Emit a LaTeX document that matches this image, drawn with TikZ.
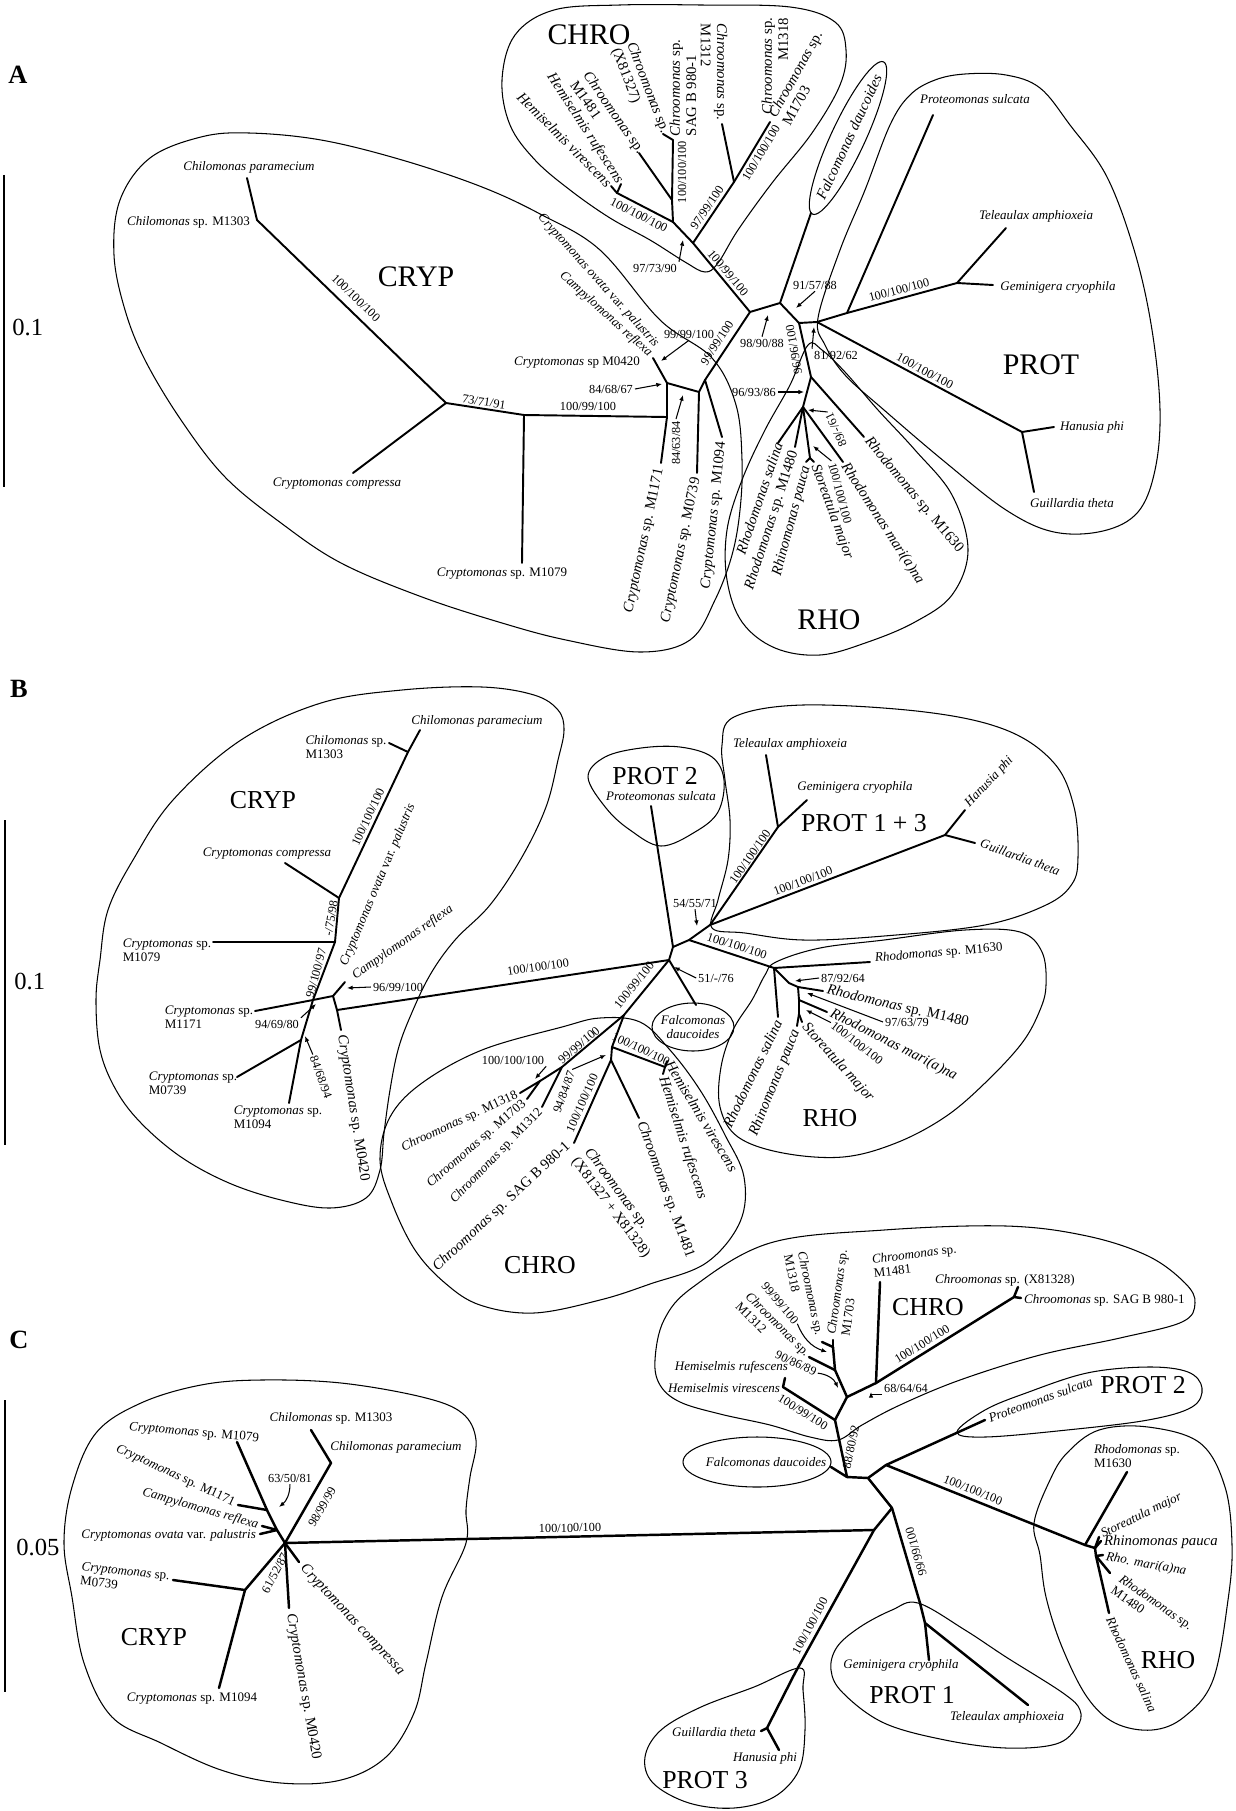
\documentclass[tikz,border=0pt]{standalone}
\usepackage{fontspec}
\setmainfont{Liberation Serif}
\usetikzlibrary{arrows.meta}

\begin{document}
\begin{tikzpicture}[x=0.02cm,y=-0.02cm]

  \tikzset{
    branch/.style={line width=1.1pt, line cap=round, line join=round},
    branchC/.style={line width=1.4pt, line cap=round, line join=round},
    bubble/.style={line width=0.6pt},
    taxon/.style={font=\fontsize{7.4}{8.2}\selectfont, inner sep=1pt},
    taxonL/.style={font=\fontsize{8.4}{9.2}\selectfont, inner sep=1pt},
    boot/.style={font=\fontsize{7}{8}\selectfont, inner sep=1pt},
    clade/.style={font=\fontsize{17}{17}\selectfont, inner sep=0pt},
    cladeS/.style={font=\fontsize{14.7}{15}\selectfont, inner sep=0pt},
    panel/.style={font=\fontsize{15}{15}\selectfont\bfseries, inner sep=0pt},
    scaletxt/.style={font=\fontsize{14}{14}\selectfont, inner sep=0pt},
    scalebar/.style={line width=0.9pt},
    pointer/.style={-{Latex[length=3.2pt,width=2.6pt]}, line width=0.6pt}
  }
  \newcommand{\genus}[1]{\textit{#1}}

  \useasboundingbox (0,0) rectangle (1236,1811);

  % ---------- A ----------
  \node[panel] (panA) at (18,75) {A};
  \coordinate (barAtop) at (4,175);
  \coordinate (barAbot) at (4,487);
  \draw[scalebar] (barAtop) -- (barAbot);
  \node[scaletxt, anchor=west] (scaleA) at (12,327) {0.1};

  \draw[bubble] plot[smooth cycle, tension=0.6] coordinates {
    (114,255) (120,200) (150,158) (201,137) (249,133) (321,140) (402,160)
    (482,187) (542,215) (600,250) (660,320) (712,358) (736,405) (742,460)
    (740,510) (732,555) (715,600) (690,640) (640,652) (566,640) (502,623)
    (422,597) (341,563) (281,523) (225,477) (181,420) (145,360) (125,310)};
  \draw[bubble] plot[smooth cycle, tension=0.6] coordinates {
    (554,10) (620,5) (700,5) (790,7) (835,22) (846,50) (840,85) (812,133)
    (772,183) (738,230) (718,263) (705,272) (685,262) (650,240) (610,218)
    (570,190) (535,160) (510,125) (502,80) (515,35)};
  \draw[bubble] plot[smooth cycle, tension=0.6] coordinates {
    (818,318) (840,250) (865,190) (890,125) (910,95) (935,80) (965,74)
    (1006,75) (1040,88) (1070,125) (1107,177) (1135,253) (1152,330)
    (1160,410) (1155,470) (1138,512) (1103,531) (1054,532) (1006,510)
    (945,462) (884,410) (845,375) (825,345)};
  \draw[bubble] plot[smooth cycle, tension=0.6] coordinates {
    (808,345) (790,385) (765,430) (742,480) (727,530) (727,580) (742,622)
    (775,648) (820,655) (868,642) (915,622) (952,595) (968,550) (952,495)
    (915,450) (878,410) (845,372) (822,350)};
  \draw[bubble, rotate around={65:(848,138)}] (848,138) ellipse [x radius=84, y radius=17];

  \coordinate (aChilP) at (247,178);
  \coordinate (aChil) at (257,220);
  \coordinate (aD1) at (446,403);
  \coordinate (aComp) at (353,473);
  \coordinate (aD2) at (524,415);
  \coordinate (aM1079) at (522,563);
  \coordinate (aD3) at (667,417);
  \coordinate (aM1171) at (661,463);
  \coordinate (aNa) at (667,383);
  \coordinate (aNd) at (653,358);
  \coordinate (aNb) at (699,392);
  \coordinate (aM0739) at (697,473);
  \coordinate (aNc) at (705,380);
  \coordinate (aM1094) at (722,437);
  \coordinate (aC0) at (750,312);
  \coordinate (aK1) at (693,243);
  \coordinate (aK2) at (734,182);
  \coordinate (aK3) at (673,222);
  \coordinate (aX1) at (672,200);
  \coordinate (aX2) at (673,140);
  \coordinate (aM1481) at (639,153);
  \coordinate (aX81327) at (663,134);
  \coordinate (aHH) at (617,193);
  \coordinate (aHvir) at (611,186);
  \coordinate (aHruf) at (621,184);
  \coordinate (aM1312) at (722,124);
  \coordinate (aMM) at (770,122);
  \coordinate (aF0) at (780,303);
  \coordinate (aFal) at (811,213);
  \coordinate (aQ0) at (799,323);
  \coordinate (aR0) at (817,322);
  \coordinate (aR1) at (847,313);
  \coordinate (aProt) at (933,115);
  \coordinate (aR2) at (957,283);
  \coordinate (aTel) at (1006,228);
  \coordinate (aGem) at (993,285);
  \coordinate (aHG) at (1022,432);
  \coordinate (aHan) at (1054,427);
  \coordinate (aGui) at (1034,492);
  \coordinate (aS0) at (811,377);
  \coordinate (aS1) at (803,407);
  \coordinate (aS2) at (810,458);
  \coordinate (aSal) at (778,443);
  \coordinate (aM1480) at (795,447);
  \coordinate (aPau) at (806,462);
  \coordinate (aSto) at (814,462);
  \coordinate (aMar) at (843,462);
  \coordinate (aM1630) at (864,437);

  \draw[branch] (aChilP) -- (aChil) -- (aD1) -- (aComp);
  \draw[branch] (aD1) -- (aD2) -- (aM1079);
  \draw[branch] (aD2) -- (aD3) -- (aM1171);
  \draw[branch] (aD3) -- (aNa) -- (aNd);
  \draw[branch] (aNa) -- (aNb) -- (aM0739);
  \draw[branch] (aNb) -- (aNc) -- (aM1094);
  \draw[branch] (aNc) -- (aC0) -- (aK1) -- (aK2) -- (aMM);
  \draw[branch] (aK2) -- (aM1312);
  \draw[branch] (aK1) -- (aK3) -- (aX1) -- (aX2) -- (aX81327);
  \draw[branch] (aX1) -- (aM1481);
  \draw[branch] (aK3) -- (aHH) -- (aHvir);
  \draw[branch] (aHH) -- (aHruf);
  \draw[branch] (aC0) -- (aF0) -- (aFal);
  \draw[branch] (aF0) -- (aQ0) -- (aR0) -- (aR1) -- (aProt);
  \draw[branch] (aR1) -- (aR2) -- (aTel);
  \draw[branch] (aR2) -- (aGem);
  \draw[branch] (aR0) -- (aHG) -- (aHan);
  \draw[branch] (aHG) -- (aGui);
  \draw[branch] (aQ0) -- (aS0) -- (aM1630);
  \draw[branch] (aS0) -- (aS1) -- (aSal);
  \draw[branch] (aS1) -- (aM1480);
  \draw[branch] (aS1) -- (aMar);
  \draw[branch] (aS1) -- (aS2) -- (aPau);
  \draw[branch] (aS2) -- (aSto);

  \node[clade] (cladeAcryp) at (416,277) {CRYP};
  \node[clade] (cladeAchro) at (589,35) {CHRO};
  \node[clade] (cladeAprot) at (1041,365) {PROT};
  \node[clade] (cladeArho) at (829,620) {RHO};

  \node[taxon] (tAChilP) at (249,167) {\genus{Chilomonas paramecium}};
  \node[taxon, anchor=east] (tAChil) at (252,222) {\genus{Chilomonas} sp. M1303};
  \node[taxon] (tAComp) at (337,484) {\genus{Cryptomonas compressa}};
  \node[taxon] (tAM1079) at (502,574) {\genus{Cryptomonas} sp. M1079};
  \node[taxon, anchor=east] (tAM0420) at (642,363) {\genus{Cryptomonas} sp M0420};
  \node[taxon, anchor=east, rotate=-48] (tAOva) at (658,347) {\genus{Cryptomonas ovata} var. \genus{palustris}};
  \node[taxon, anchor=east, rotate=-42] (tARef) at (652,356) {\genus{Campylomonas reflexa}};
  \node[taxonL, anchor=east, rotate=78] (tAM1171) at (660,467) {\genus{Cryptomonas} sp. M1171};
  \node[taxonL, anchor=east, rotate=78] (tAM0739) at (697,476) {\genus{Cryptomonas} sp. M0739};
  \node[taxonL, anchor=east, rotate=84] (tAM1094) at (722,440) {\genus{Cryptomonas} sp. M1094};

  \node[taxonL, anchor=east, rotate=-45] (tAHvir) at (aHvir) {\genus{Hemiselmis virescens}};
  \node[taxonL, anchor=east, rotate=-57] (tAHruf) at (aHruf) {\genus{Hemiselmis rufescens}};
  \node[taxonL, align=left, rotate=-55] (tAM1481) at (608,117) {\genus{Chroomonas} sp.\\M1481};
  \node[taxonL, align=left, rotate=-69] (tAX81327) at (640,91) {\genus{Chroomonas} sp.\\(X81327)};
  \node[taxonL, align=left, rotate=90] (tASAG) at (683,88) {\genus{Chroomonas} sp.\\SAG B 980-1};
  \node[taxonL, align=left, rotate=-90] (tAM1312) at (714,72) {\genus{Chroomonas} sp.\\M1312};
  \node[taxonL, align=right, rotate=90] (tAM1318) at (775,66) {\genus{Chroomonas} sp.\\M1318};
  \node[taxonL, align=left, rotate=61] (tAM1703) at (802,78) {\genus{Chroomonas} sp.\\M1703};
  \node[taxonL, rotate=65] (tAFal) at (849,137) {\genus{Falcomonas daucoides}};

  \node[taxon] (tAProt) at (975,99) {\genus{Proteomonas sulcata}};
  \node[taxon] (tATel) at (1036,216) {\genus{Teleaulax amphioxeia}};
  \node[taxon] (tAGem) at (1058,287) {\genus{Geminigera cryophila}};
  \node[taxon] (tAHan) at (1092,427) {\genus{Hanusia phi}};
  \node[taxon] (tAGui) at (1072,503) {\genus{Guillardia theta}};

  \node[taxonL, anchor=east, rotate=71] (tASal) at (779,441) {\genus{Rhodomonas salina}};
  \node[taxonL, anchor=east, rotate=72] (tAM1480) at (795,449) {\genus{Rhodomonas} sp. M1480};
  \node[taxonL, anchor=east, rotate=75] (tAPau) at (807,464) {\genus{Rhinomonas pauca}};
  \node[taxonL, anchor=west, rotate=-70] (tASto) at (814,463) {\genus{Storeatula major}};
  \node[taxonL, anchor=west, rotate=-57] (tAMar) at (843,463) {\genus{Rhodomonas mari(a)na}};
  \node[taxonL, anchor=west, rotate=-50] (tAM1630) at (866,438) {\genus{Rhodomonas} sp. M1630};

  \node[boot, rotate=-44] (bsA1) at (356,298) {100/100/100};
  \node[boot, rotate=-9] (bsA2) at (484,402) {73/71/91};
  \node[boot] (bsA3) at (588,406) {100/99/100};
  \node[boot] (bsA4) at (611,389) {84/68/67};
  \coordinate (pA4) at (662,384);
  \draw[pointer] (bsA4.east) -- (pA4);
  \node[boot] (bsA5) at (689,334) {99/99/100};
  \coordinate (pA5) at (661,361);
  \draw[pointer] (bsA5.south) -- (pA5);
  \node[boot, rotate=57] (bsA6) at (717,343) {99/99/100};
  \node[boot, rotate=90] (bsA7) at (676,443) {84/63/84};
  \coordinate (pA7) at (683,395);
  \draw[pointer] (bsA7.east) -- (pA7);
  \node[boot, rotate=-27] (bsA8) at (639,215) {100/100/100};
  \node[boot, rotate=90] (bsA9) at (682,172) {100/100/100};
  \node[boot, rotate=56] (bsA10) at (707,208) {97/99/100};
  \node[boot, rotate=59] (bsA11) at (761,153) {100/100/100};
  \node[boot] (bsA12) at (655,268) {97/73/90};
  \coordinate (pA12) at (683,240);
  \draw[pointer] (bsA12.north east) -- (pA12);
  \node[boot, rotate=-50] (bsA13) at (728,273) {100/99/100};
  \node[boot] (bsA14) at (762,343) {98/90/88};
  \coordinate (pA14) at (768,315);
  \draw[pointer] (bsA14.north) -- (pA14);
  \node[boot] (bsA15) at (815,285) {91/57/88};
  \coordinate (pA15) at (796,308);
  \draw[pointer] (bsA15.south) -- (pA15);
  \node[boot, rotate=15] (bsA16) at (899,290) {100/100/100};
  \node[boot] (bsA17) at (836,355) {81/92/62};
  \coordinate (pA17) at (814,327);
  \draw[pointer] (bsA17.north west) -- (pA17);
  \node[boot, rotate=-28] (bsA18) at (925,371) {100/100/100};
  \node[boot, rotate=100] (bsA19) at (794,350) {96/96/100};
  \node[boot] (bsA20) at (754,392) {96/93/86};
  \coordinate (pA20) at (804,392);
  \draw[pointer] (bsA20.east) -- (pA20);
  \node[boot, rotate=115] (bsA21) at (836,430) {89/-/61};
  \coordinate (pA21) at (808,410);
  \draw[pointer] (bsA21.east) -- (pA21);
  \node[boot, rotate=-75] (bsA22) at (840,493) {100/100/100};
  \coordinate (pA22) at (813,446);
  \draw[pointer] (bsA22.west) -- (pA22);

  % ---------- B ----------
  \node[panel] (panB) at (19,689) {B};
  \coordinate (barBtop) at (5,820);
  \coordinate (barBbot) at (5,1145);
  \draw[scalebar] (barBtop) -- (barBbot);
  \node[scaletxt, anchor=west] (scaleB) at (14,981) {0.1};

  \draw[bubble] plot[smooth cycle, tension=0.6] coordinates {
    (100,960) (108,910) (133,860) (173,800) (241,740) (321,703) (402,690)
    (482,687) (534,695) (558,710) (564,730) (558,760) (546,807) (522,857)
    (490,905) (455,940) (430,975) (410,1017) (398,1050) (390,1090)
    (384,1133) (380,1170) (366,1198) (330,1208) (281,1200) (229,1183)
    (181,1157) (141,1123) (116,1090) (100,1050) (96,1000)};
  \draw[bubble] plot[smooth cycle, tension=0.6] coordinates {
    (588,777) (605,757) (641,748) (680,747) (712,757) (724,780) (718,812)
    (695,832) (661,846) (630,830) (606,808)};
  \draw[bubble] plot[smooth cycle, tension=0.6] coordinates {
    (734,717) (803,705) (925,712) (1006,730) (1054,763) (1074,807)
    (1078,857) (1072,884) (1046,905) (985,925) (884,936) (803,940)
    (745,933) (712,928) (718,900) (728,860) (730,820) (725,780) (722,745)};
  \draw[bubble] plot[smooth cycle, tension=0.6] coordinates {
    (776,962) (820,948) (884,940) (965,930) (1020,932) (1042,952)
    (1046,985) (1040,1010) (1022,1043) (985,1083) (945,1117) (896,1143)
    (843,1157) (783,1153) (738,1137) (720,1107) (721,1067) (733,1030)
    (752,1000) (765,975)};
  \draw[bubble] plot[smooth cycle, tension=0.6] coordinates {
    (600,1018) (640,1022) (670,1050) (700,1090) (725,1135) (744,1177)
    (740,1222) (706,1263) (650,1284) (600,1300) (534,1313) (480,1305)
    (445,1283) (415,1250) (392,1203) (380,1160) (390,1117) (422,1083)
    (482,1050) (562,1027)};
  \draw[bubble] (693,1027) ellipse [x radius=41, y radius=24];

  \coordinate (bChilP) at (420,730);
  \coordinate (bChil) at (408,752);
  \coordinate (bChS) at (389,743);
  \coordinate (bCc) at (339,898);
  \coordinate (bComp) at (285,863);
  \coordinate (bCb) at (335,942);
  \coordinate (bM1079) at (213,942);
  \coordinate (bCa) at (313,1000);
  \coordinate (bM1171) at (255,1011);
  \coordinate (bCf) at (301,1040);
  \coordinate (bM0739) at (237,1077);
  \coordinate (bM1094) at (289,1103);
  \coordinate (bCd) at (333,996);
  \coordinate (bCe) at (345,982);
  \coordinate (bCg) at (337,1010);
  \coordinate (bM0420) at (341,1030);
  \coordinate (bC2) at (669,960);
  \coordinate (bC1) at (673,947);
  \coordinate (bX) at (689,940);
  \coordinate (bP2) at (710,925);
  \coordinate (bProt) at (651,806);
  \coordinate (bTG) at (778,827);
  \coordinate (bTel) at (766,755);
  \coordinate (bGem) at (807,800);
  \coordinate (bHG) at (945,835);
  \coordinate (bHan) at (965,810);
  \coordinate (bGui) at (975,843);
  \coordinate (bFal) at (696,1005);
  \coordinate (bR0) at (774,968);
  \coordinate (bR1) at (789,983);
  \coordinate (bR2) at (798,987);
  \coordinate (bR3) at (799,1000);
  \coordinate (bR4) at (799,1014);
  \coordinate (bM1630) at (870,962);
  \coordinate (bSal) at (778,1017);
  \coordinate (bM1480) at (823,991);
  \coordinate (bMar) at (827,1012);
  \coordinate (bSto) at (802,1022);
  \coordinate (bPau) at (797,1026);
  \coordinate (bK1) at (624,1015);
  \coordinate (bK2) at (562,1067);
  \coordinate (bK6) at (540,1081);
  \coordinate (bM1318) at (520,1093);
  \coordinate (bM1703) at (527,1099);
  \coordinate (bM1312) at (542,1107);
  \coordinate (bK3) at (612,1047);
  \coordinate (bHH) at (665,1067);
  \coordinate (bHvir) at (667,1061);
  \coordinate (bHruf) at (663,1074);
  \coordinate (bK4) at (611,1060);
  \coordinate (bM1481) at (639,1118);
  \coordinate (bK5) at (574,1143);

  \draw[branch] (bChilP) -- (bChil) -- (bCc) -- (bCb) -- (bCa) -- (bCf) -- (bM1094);
  \draw[branch] (bChS) -- (bChil);
  \draw[branch] (bComp) -- (bCc);
  \draw[branch] (bM1079) -- (bCb);
  \draw[branch] (bM1171) -- (bCa);
  \draw[branch] (bM0739) -- (bCf);
  \draw[branch] (bCa) -- (bCd) -- (bCe);
  \draw[branch] (bCd) -- (bCg) -- (bM0420);
  \draw[branch] (bCg) -- (bC2) -- (bC1) -- (bProt);
  \draw[branch] (bC1) -- (bX) -- (bP2) -- (bTG) -- (bTel);
  \draw[branch] (bTG) -- (bGem);
  \draw[branch] (bP2) -- (bHG) -- (bHan);
  \draw[branch] (bHG) -- (bGui);
  \draw[branch] (bC2) -- (bFal);
  \draw[branch] (bX) -- (bR0) -- (bM1630);
  \draw[branch] (bR0) -- (bSal);
  \draw[branch] (bR0) -- (bR1) -- (bR2) -- (bM1480);
  \draw[branch] (bR2) -- (bR3) -- (bMar);
  \draw[branch] (bR3) -- (bR4) -- (bSto);
  \draw[branch] (bR4) -- (bPau);
  \draw[branch] (bC2) -- (bK1) -- (bK2) -- (bM1312);
  \draw[branch] (bK2) -- (bK6) -- (bM1318);
  \draw[branch] (bK6) -- (bM1703);
  \draw[branch] (bK1) -- (bK3) -- (bHH) -- (bHvir);
  \draw[branch] (bHH) -- (bHruf);
  \draw[branch] (bK3) -- (bK4) -- (bM1481);
  \draw[branch] (bK4) -- (bK5);

  \node[cladeS] (cladeBcryp) at (263,800) {CRYP};
  \node[cladeS] (cladeBprot2) at (655,776) {PROT 2};
  \node[cladeS] (cladeBprot13) at (864,823) {PROT 1 + 3};
  \node[cladeS] (cladeBrho) at (830,1118) {RHO};
  \node[cladeS] (cladeBchro) at (540,1265) {CHRO};

  \node[taxon] (tBChilP) at (477,721) {\genus{Chilomonas paramecium}};
  \node[taxon, align=left] (tBChil) at (346,747) {\genus{Chilomonas} sp.\\M1303};
  \node[taxon] (tBComp) at (267,854) {\genus{Cryptomonas compressa}};
  \node[taxon, align=left] (tBM1079) at (167,950) {\genus{Cryptomonas} sp.\\M1079};
  \node[taxon, align=left] (tBM1171) at (209,1017) {\genus{Cryptomonas} sp.\\M1171};
  \node[taxon, align=left] (tBM0739) at (193,1083) {\genus{Cryptomonas} sp.\\M0739};
  \node[taxon, align=left] (tBM1094) at (278,1117) {\genus{Cryptomonas} sp.\\M1094};
  \node[taxonL, anchor=west, rotate=-81] (tBM0420) at (341,1033) {\genus{Cryptomonas} sp. M0420};
  \node[taxon, anchor=west, rotate=67] (tBOva) at (343,967) {\genus{Cryptomonas ovata} var. \genus{palustris}};
  \node[taxon, anchor=west, rotate=35] (tBRef) at (352,978) {\genus{Campylomonas reflexa}};

  \node[taxon] (tBProt) at (661,796) {\genus{Proteomonas sulcata}};
  \node[taxon] (tBTel) at (790,744) {\genus{Teleaulax amphioxeia}};
  \node[taxon] (tBGem) at (855,787) {\genus{Geminigera cryophila}};
  \node[taxon, anchor=west, rotate=47] (tBHan) at (966,807) {\genus{Hanusia phi}};
  \node[taxon, anchor=west, rotate=-20] (tBGui) at (979,842) {\genus{Guillardia theta}};
  \node[taxon, align=center] (tBFal) at (693,1027) {\genus{Falcomonas}\\\genus{daucoides}};

  \node[taxon, anchor=west, rotate=5] (tBM1630) at (873,959) {\genus{Rhodomonas} sp. M1630};
  \node[taxonL, anchor=west, rotate=-13] (tBM1480) at (825,990) {\genus{Rhodomonas} sp. M1480};
  \node[taxonL, anchor=west, rotate=-27] (tBMar) at (829,1012) {\genus{Rhodomonas mari(a)na}};
  \node[taxonL, anchor=west, rotate=-48] (tBSto) at (803,1024) {\genus{Storeatula major}};
  \node[taxonL, anchor=east, rotate=68] (tBPau) at (797,1028) {\genus{Rhinomonas pauca}};
  \node[taxonL, anchor=east, rotate=64] (tBSal) at (779,1019) {\genus{Rhodomonas salina}};

  \node[taxon, anchor=east, rotate=25] (tBM1318) at (519,1094) {\genus{Chroomonas} sp. M1318};
  \node[taxon, anchor=east, rotate=41] (tBM1703) at (526,1101) {\genus{Chroomonas} sp. M1703};
  \node[taxon, anchor=east, rotate=46] (tBM1312) at (542,1109) {\genus{Chroomonas} sp. M1312};
  \node[taxonL, anchor=east, rotate=43] (tBSAG) at (570,1143) {\genus{Chroomonas} sp. SAG B 980-1};
  \node[taxonL, align=left, rotate=-53] (tBX81327) at (617,1203) {\genus{Chroomonas} sp.\\(X81327 + X81328)};
  \node[taxonL, anchor=west, rotate=-70] (tBM1481) at (640,1120) {\genus{Chroomonas} sp. M1481};
  \node[taxonL, anchor=west, rotate=-59] (tBHvir) at (668,1060) {\genus{Hemiselmis virescens}};
  \node[taxonL, anchor=west, rotate=-72] (tBHruf) at (662,1075) {\genus{Hemiselmis rufescens}};

  \node[boot, rotate=65] (bsB1) at (368,817) {100/100/100};
  \node[boot, rotate=80] (bsB2) at (331,918) {-/75/98};
  \node[boot, rotate=75] (bsB3) at (316,973) {99/100/97};
  \node[boot] (bsB4) at (277,1024) {94/69/80};
  \coordinate (pB4) at (316,1004);
  \draw[pointer] (bsB4.north east) -- (pB4);
  \node[boot] (bsB5) at (398,987) {96/99/100};
  \coordinate (pB5) at (347,988);
  \draw[pointer] (bsB5.west) -- (pB5);
  \node[boot, rotate=-70] (bsB6) at (321,1077) {84/68/94};
  \coordinate (pB6) at (305,1036);
  \draw[pointer] (bsB6.west) -- (pB6);
  \node[boot, rotate=8.6] (bsB7) at (538,967) {100/100/100};
  \node[boot] (bsB8) at (695,903) {54/55/71};
  \coordinate (pB8) at (697,926);
  \draw[pointer] (bsB8.south) -- (pB8);
  \node[boot, rotate=55] (bsB9) at (750,857) {100/100/100};
  \node[boot, rotate=21] (bsB10) at (803,881) {100/100/100};
  \node[boot, rotate=-18] (bsB11) at (737,946) {100/100/100};
  \node[boot] (bsB12) at (716,978) {51/-/76};
  \coordinate (pB12) at (674,967);
  \draw[pointer] (bsB12.west) -- (pB12);
  \node[boot] (bsB13) at (843,978) {87/92/64};
  \coordinate (pB13) at (795,981);
  \draw[pointer] (bsB13.west) -- (pB13);
  \node[boot] (bsB14) at (907,1022) {97/63/79};
  \coordinate (pB14) at (807,993);
  \draw[pointer] (bsB14.west) -- (pB14);
  \node[boot, rotate=-38] (bsB15) at (857,1043) {100/100/100};
  \coordinate (pB15) at (806,1010);
  \draw[pointer] (bsB15.west) -- (pB15);
  \node[boot, rotate=51] (bsB16) at (634,985) {100/99/100};
  \node[boot, rotate=40] (bsB17) at (579,1045) {99/99/100};
  \node[boot] (bsB18) at (513,1060) {100/100/100};
  \coordinate (pB18) at (535,1079);
  \draw[pointer] (bsB18.south east) -- (pB18);
  \node[boot, rotate=70] (bsB19) at (564,1092) {94/84/87};
  \coordinate (pB19) at (606,1055);
  \draw[pointer] (bsB19.east) -- (pB19);
  \node[boot, rotate=66] (bsB20) at (582,1103) {100/100/100};
  \node[boot, rotate=-25] (bsB21) at (641,1049) {100/100/100};

  % ---------- C ----------
  \node[panel] (panC) at (19,1340) {C};
  \coordinate (barCtop) at (5,1400);
  \coordinate (barCbot) at (5,1692);
  \draw[scalebar] (barCtop) -- (barCbot);
  \node[scaletxt, anchor=west] (scaleC) at (16,1547) {0.05};

  \draw[bubble] plot[smooth cycle, tension=0.6] coordinates {
    (64,1543) (72,1487) (96,1433) (141,1403) (201,1385) (261,1380)
    (341,1383) (422,1397) (462,1413) (476,1440) (470,1477) (466,1510)
    (466,1543) (442,1597) (426,1663) (414,1713) (386,1757) (341,1780)
    (281,1783) (221,1770) (161,1743) (112,1717) (84,1663) (72,1597)};
  \draw[bubble] plot[smooth cycle, tension=0.6] coordinates {
    (655,1360) (664,1320) (693,1287) (770,1243) (884,1230) (1006,1226)
    (1087,1236) (1148,1256) (1185,1283) (1195,1303) (1182,1322)
    (1120,1338) (1040,1355) (960,1380) (900,1405) (862,1425) (838,1440)
    (810,1437) (770,1425) (720,1414) (680,1402) (660,1385)};
  \draw[bubble] plot[smooth cycle, tension=0.6] coordinates {
    (957,1432) (985,1410) (1026,1393) (1087,1373) (1148,1367) (1188,1372)
    (1202,1388) (1192,1407) (1148,1420) (1067,1430) (985,1437)};
  \draw[bubble] plot[smooth cycle, tension=0.6] coordinates {
    (1034,1523) (1050,1480) (1067,1453) (1099,1430) (1148,1427)
    (1200,1443) (1225,1487) (1232,1545) (1228,1600) (1213,1680)
    (1184,1717) (1152,1730) (1115,1723) (1087,1697) (1062,1647)
    (1046,1597) (1040,1555)};
  \draw[bubble] plot[smooth cycle, tension=0.6] coordinates {
    (918,1603) (892,1610) (860,1627) (837,1647) (831,1670) (843,1693)
    (884,1723) (945,1740) (1006,1748) (1056,1744) (1077,1727)
    (1080,1710) (1063,1693) (1006,1657) (965,1630)};
  \draw[bubble] plot[smooth cycle, tension=0.6] coordinates {
    (800,1668) (754,1687) (701,1707) (661,1730) (645,1757) (653,1783)
    (689,1803) (734,1808) (774,1797) (799,1770) (805,1730) (803,1690)};
  \draw[bubble] (757,1462) ellipse [x radius=74, y radius=25];

  \coordinate (cM1079) at (237,1442);
  \coordinate (cN1) at (267,1510);
  \coordinate (cM1171) at (238,1505);
  \coordinate (cN2) at (277,1530);
  \coordinate (cRef) at (262,1526);
  \coordinate (cOva) at (260,1534);
  \coordinate (cC0) at (285,1543);
  \coordinate (cChil) at (331,1463);
  \coordinate (cChS) at (311,1430);
  \coordinate (cN3) at (245,1590);
  \coordinate (cM0739) at (173,1580);
  \coordinate (cM1094) at (219,1688);
  \coordinate (cM0420) at (289,1608);
  \coordinate (cComp) at (299,1562);
  \coordinate (cCP3) at (874,1530);
  \coordinate (cCP2) at (892,1508);
  \coordinate (cCP1) at (868,1478);
  \coordinate (cCP0) at (847,1477);
  \coordinate (cFal) at (831,1467);
  \coordinate (cCQ1) at (835,1420);
  \coordinate (cCPR) at (886,1465);
  \coordinate (cProt) at (985,1420);
  \coordinate (cR0) at (1085,1545);
  \coordinate (cR1) at (1095,1548);
  \coordinate (cR2) at (1096,1556);
  \coordinate (cM1630) at (1127,1472);
  \coordinate (cSto) at (1099,1537);
  \coordinate (cPau) at (1101,1541);
  \coordinate (cMar) at (1103,1555);
  \coordinate (cM1480) at (1110,1573);
  \coordinate (cSal) at (1109,1613);
  \coordinate (cG3) at (795,1673);
  \coordinate (cG4) at (767,1728);
  \coordinate (cGui) at (761,1731);
  \coordinate (cHan) at (779,1750);
  \coordinate (cG1) at (920,1603);
  \coordinate (cG2) at (925,1623);
  \coordinate (cTel) at (1028,1705);
  \coordinate (cGem) at (929,1660);
  \coordinate (cHC) at (783,1387);
  \coordinate (cHruf) at (785,1378);
  \coordinate (cCQ2) at (847,1397);
  \coordinate (cCQ3) at (876,1383);
  \coordinate (cM1481) at (880,1282);
  \coordinate (cCQ4) at (1014,1297);
  \coordinate (cX81328) at (1018,1287);
  \coordinate (cSAG) at (1021,1298);
  \coordinate (cCQ5) at (835,1370);
  \coordinate (cM1312) at (809,1357);
  \coordinate (cCQ6) at (833,1347);
  \coordinate (cM1318) at (822,1342);
  \coordinate (cM1703) at (833,1340);

  \draw[branchC] (cM1079) -- (cN1) -- (cN2) -- (cC0) -- (cCP3);
  \draw[branchC] (cM1171) -- (cN1);
  \draw[branchC] (cRef) -- (cN2);
  \draw[branchC] (cOva) -- (cN2);
  \draw[branchC] (cC0) -- (cChil) -- (cChS);
  \draw[branchC] (cC0) -- (cN3) -- (cM0739);
  \draw[branchC] (cN3) -- (cM1094);
  \draw[branchC] (cC0) -- (cM0420);
  \draw[branchC] (cC0) -- (cComp);
  \draw[branchC] (cCP3) -- (cCP2) -- (cCP1) -- (cCP0) -- (cFal);
  \draw[branchC] (cCP0) -- (cCQ1) -- (cCQ2) -- (cCQ3) -- (cM1481);
  \draw[branchC] (cCQ3) -- (cCQ4) -- (cSAG);
  \draw[branchC] (cCQ4) -- (cX81328);
  \draw[branchC] (cCQ1) -- (cHC) -- (cHruf);
  \draw[branchC] (cCQ2) -- (cCQ5) -- (cM1312);
  \draw[branchC] (cCQ5) -- (cCQ6) -- (cM1318);
  \draw[branchC] (cCQ6) -- (cM1703);
  \draw[branchC] (cCP1) -- (cCPR) -- (cProt);
  \draw[branchC] (cCPR) -- (cR0) -- (cM1630);
  \draw[branchC] (cR0) -- (cR1) -- (cSto);
  \draw[branchC] (cR1) -- (cPau);
  \draw[branchC] (cR1) -- (cR2) -- (cMar);
  \draw[branchC] (cR2) -- (cM1480);
  \draw[branchC] (cR2) -- (cSal);
  \draw[branchC] (cCP3) -- (cG3) -- (cG4) -- (cGui);
  \draw[branchC] (cG4) -- (cHan);
  \draw[branchC] (cCP2) -- (cG1) -- (cG2) -- (cTel);
  \draw[branchC] (cG2) -- (cGem);

  \node[cladeS] (cladeCcryp) at (154,1637) {CRYP};
  \node[cladeS] (cladeCchro) at (928,1307) {CHRO};
  \node[cladeS] (cladeCprot2) at (1143,1385) {PROT 2};
  \node[cladeS] (cladeCrho) at (1168,1660) {RHO};
  \node[cladeS] (cladeCprot1) at (912,1695) {PROT 1};
  \node[cladeS] (cladeCprot3) at (705,1780) {PROT 3};

  \node[taxon, rotate=-5] (tCM1079) at (194,1433) {\genus{Cryptomonas} sp. M1079};
  \node[taxon] (tCChS) at (331,1418) {\genus{Chilomonas} sp. M1303};
  \node[taxon] (tCChil) at (396,1447) {\genus{Chilomonas paramecium}};
  \node[taxon, anchor=east, rotate=-25] (tCM1171) at (236,1504) {\genus{Cryptomonas} sp. M1171};
  \node[taxon, anchor=east, rotate=-16] (tCRef) at (260,1526) {\genus{Campylomonas reflexa}};
  \node[taxon, anchor=east] (tCOva) at (258,1535) {\genus{Cryptomonas ovata} var. \genus{palustris}};
  \node[taxon, align=left, rotate=-6] (tCM0739) at (125,1578) {\genus{Cryptomonas} sp.\\M0739};
  \node[taxon] (tCM1094) at (192,1699) {\genus{Cryptomonas} sp. M1094};
  \node[taxonL, anchor=west, rotate=-80] (tCM0420) at (290,1612) {\genus{Cryptomonas} sp. M0420};
  \node[taxonL, anchor=west, rotate=-47] (tCComp) at (301,1565) {\genus{Cryptomonas compressa}};

  \node[taxon] (tCFal) at (766,1462) {\genus{Falcomonas daucoides}};
  \node[taxon, anchor=east] (tCHvir) at (782,1388) {\genus{Hemiselmis virescens}};
  \node[taxon, anchor=south east] (tCHruf) at (790,1375) {\genus{Hemiselmis rufescens}};
  \node[taxon, align=left, rotate=-45] (tCM1312) at (773,1329) {\genus{Chroomonas} sp.\\M1312};
  \node[taxon, align=left, rotate=-78] (tCM1318) at (804,1295) {\genus{Chroomonas} sp.\\M1318};
  \node[taxon, align=left, rotate=82] (tCM1703) at (844,1293) {\genus{Chroomonas} sp.\\M1703};
  \node[taxon, align=left, rotate=7] (tCM1481) at (915,1261) {\genus{Chroomonas} sp.\\M1481};
  \node[taxon] (tCX81328) at (1005,1280) {\genus{Chroomonas} sp. (X81328)};
  \node[taxon, anchor=west] (tCSAG) at (1022,1300) {\genus{Chroomonas} sp. SAG B 980-1};
  \node[taxon, anchor=west, rotate=20] (tCProt) at (987,1419) {\genus{Proteomonas sulcata}};

  \node[taxon, align=left] (tCM1630) at (1137,1456) {\genus{Rhodomonas} sp.\\M1630};
  \node[taxon, anchor=west, rotate=26] (tCSto) at (1100,1536) {\genus{Storeatula major}};
  \node[taxonL, anchor=west] (tCPau) at (1102,1542) {\genus{Rhinomonas pauca}};
  \node[taxon, anchor=west, rotate=-10] (tCMar) at (1104,1557) {\genus{Rho. mari(a)na}};
  \node[taxon, align=left, rotate=-35] (tCM1480) at (1152,1608) {\genus{Rhodomonas} sp.\\M1480};
  \node[taxon, anchor=west, rotate=-65] (tCSal) at (1109,1616) {\genus{Rhodomonas salina}};

  \node[taxon] (tCGem) at (901,1665) {\genus{Geminigera cryophila}};
  \node[taxon] (tCTel) at (1007,1717) {\genus{Teleaulax amphioxeia}};
  \node[taxon, anchor=east] (tCGui) at (758,1732) {\genus{Guillardia theta}};
  \node[taxon] (tCHan) at (765,1758) {\genus{Hanusia phi}};

  \node[boot] (bsC1) at (290,1478) {63/50/81};
  \coordinate (pC1) at (279,1507);
  \draw[pointer] (bsC1.south) to[bend left=25] (pC1);
  \node[boot, rotate=60] (bsC2) at (322,1507) {98/99/99};
  \node[boot, rotate=62] (bsC3) at (275,1573) {61/52/87};
  \node[boot, rotate=1] (bsC4) at (570,1528) {100/100/100};
  \node[boot, rotate=78] (bsC5) at (851,1447) {88/80/92};
  \node[boot, rotate=-32] (bsC6) at (803,1412) {100/99/100};
  \node[boot, rotate=-25] (bsC7) at (796,1363) {90/86/89};
  \coordinate (pC7) at (838,1388);
  \draw[pointer] (bsC7.east) to[bend left=30] (pC7);
  \node[boot, rotate=-50] (bsC8) at (780,1303) {99/99/100};
  \coordinate (pC8) at (827,1352);
  \draw[pointer] (bsC8.east) to[bend right=25] (pC8);
  \node[boot, rotate=32] (bsC9) at (922,1344) {100/100/100};
  \node[boot] (bsC10) at (906,1388) {68/64/64};
  \coordinate (pC10) at (871,1392);
  \draw[pointer] (bsC10.south west) -| (pC10);
  \node[boot, rotate=-22] (bsC11) at (973,1490) {100/100/100};
  \node[boot, rotate=106] (bsC12) at (916,1552) {99/99/100};
  \node[boot, rotate=62] (bsC13) at (810,1626) {100/100/100};

\end{tikzpicture}
\end{document}
